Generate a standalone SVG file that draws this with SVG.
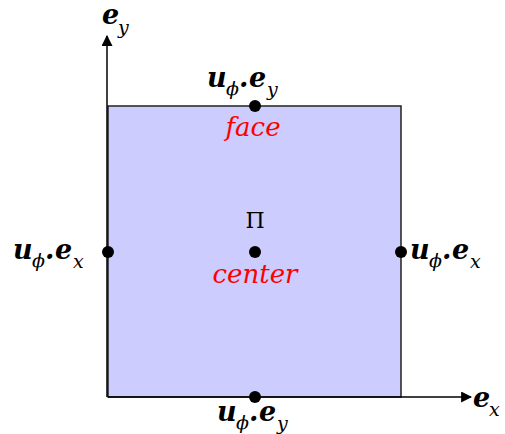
<svg xmlns="http://www.w3.org/2000/svg" width="505" height="434" viewBox="0 0 505 434">
<style>
.b{font-family:"DejaVu Serif","Liberation Serif",serif;font-weight:bold;font-style:italic;font-size:27px;fill:#000}
.s{font-family:"DejaVu Serif","Liberation Serif",serif;font-style:italic;font-size:19px;fill:#000}
.r{font-family:"DejaVu Serif","Liberation Serif",serif;font-style:italic;font-size:26px;fill:#ff0000}
.ax{stroke:#000;stroke-width:1.5;fill:none}
</style>
<defs>
<marker id="ar" viewBox="0 0 10 10" refX="9" refY="5" markerWidth="11" markerHeight="11" markerUnits="userSpaceOnUse" orient="auto">
<path d="M0,0 L10,5 L0,10 z" fill="#000"/>
</marker>
</defs>
<g id="square">
<rect x="108" y="106" width="293" height="291" fill="#ccccff" stroke="#222" stroke-width="1.5"/>
</g>
<g id="connectors">
<line class="ax" x1="107" y1="397" x2="107" y2="36" marker-end="url(#ar)"/>
<line class="ax" x1="108" y1="397" x2="471" y2="397" marker-end="url(#ar)"/>
</g>
<g id="axis-ey"><text x="102" y="24" class="b">e</text><text x="118" y="34" class="s">y</text></g>
<g id="axis-ex"><text x="473" y="407" class="b">e</text><text x="489" y="416" class="s">x</text></g>
<g id="face-top">
<circle cx="255" cy="106" r="6" fill="#000"/>
<text x="207" y="87" class="b">u</text><text x="226" y="95" class="s">ϕ</text><text x="239" y="87" class="b">.</text><text x="249" y="87" class="b">e</text><text x="267" y="96" class="s">y</text>
<text x="253" y="136" class="r" text-anchor="middle">face</text>
</g>
<g id="face-bottom">
<circle cx="255" cy="397" r="6" fill="#000"/>
<text x="217" y="421" class="b">u</text><text x="236" y="429" class="s">ϕ</text><text x="249" y="421" class="b">.</text><text x="259" y="421" class="b">e</text><text x="277" y="430" class="s">y</text>
</g>
<g id="face-left">
<circle cx="108" cy="252" r="6" fill="#000"/>
<text x="13" y="259" class="b">u</text><text x="32" y="267" class="s">ϕ</text><text x="45" y="259" class="b">.</text><text x="55" y="259" class="b">e</text><text x="73" y="268" class="s">x</text>
</g>
<g id="face-right">
<circle cx="401" cy="252" r="6" fill="#000"/>
<text x="410" y="259" class="b">u</text><text x="429" y="267" class="s">ϕ</text><text x="442" y="259" class="b">.</text><text x="452" y="259" class="b">e</text><text x="470" y="268" class="s">x</text>
</g>
<g id="center">
<circle cx="255" cy="252" r="6" fill="#000"/>
<text x="255" y="228" text-anchor="middle" style="font-family:'DejaVu Serif','Liberation Serif',serif;font-size:22px;fill:#000">Π</text>
<text x="255" y="283" class="r" text-anchor="middle">center</text>
</g>
</svg>
